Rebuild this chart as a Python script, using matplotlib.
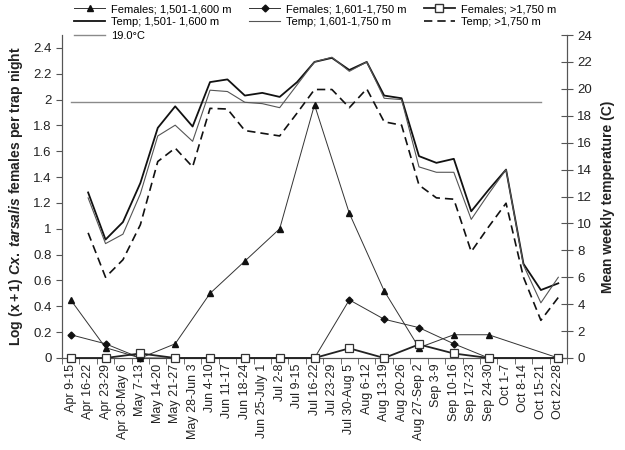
import matplotlib
matplotlib.use("Agg")
import matplotlib.pyplot as plt
from matplotlib.lines import Line2D
import numpy as np

plt.rcParams['font.family'] = ['Liberation Sans', 'DejaVu Sans']
plt.rcParams['mathtext.fontset'] = 'custom'
plt.rcParams['mathtext.rm'] = 'Liberation Sans:bold'
plt.rcParams['mathtext.bf'] = 'Liberation Sans:bold'
plt.rcParams['mathtext.it'] = 'Liberation Sans:italic:bold'

categories = ["Apr 9-15", "Apr 16-22", "Apr 23-29", "Apr 30-May 6", "May 7-13",
              "May 14-20", "May 21-27", "May 28-Jun 3", "Jun 4-10", "Jun 11-17",
              "Jun 18-24", "Jun 25-July 1", "Jul 2-8", "Jul 9-15", "Jul 16-22",
              "Jul 23-29", "Jul 30-Aug 5", "Aug 6-12", "Aug 13-19", "Aug 20-26",
              "Aug 27-Sep 2", "Sep 3-9", "Sep 10-16", "Sep 17-23", "Sep 24-30",
              "Oct 1-7", "Oct 8-14", "Oct 15-21", "Oct 22-28"]

# Female sampling weeks (biweekly)
female_weeks = ["Apr 9-15", "Apr 23-29", "May 7-13", "May 21-27", "Jun 4-10",
                "Jun 18-24", "Jul 2-8", "Jul 16-22", "Jul 30-Aug 5", "Aug 13-19",
                "Aug 27-Sep 2", "Sep 10-16", "Sep 24-30", "Oct 22-28"]
fem_1501_1600 = [0.45, 0.08, 0.0, 0.11, 0.50, 0.75, 1.00, 1.96, 1.12, 0.52, 0.08, 0.18, 0.18, 0.0]
fem_1601_1750 = [0.18, 0.11, 0.0, 0.0, 0.0, 0.0, 0.0, 0.0, 0.45, 0.30, 0.235, 0.11, 0.0, 0.0]
fem_gt1750 = [0.0, 0.0, 0.035, 0.0, 0.0, 0.0, 0.0, 0.0, 0.075, 0.0, 0.105, 0.035, 0.0, 0.0]

# Weekly temperatures (Apr 16-22 .. Oct 22-28)
temp_weeks = categories[1:]
temp_1501_1600 = [12.3, 8.8, 10.1, 13.0, 17.1, 18.7, 17.2, 20.5, 20.7, 19.5, 19.7, 19.4,
                  20.5, 22.0, 22.3, 21.4, 22.0, 19.5, 19.3, 15.0, 14.5, 14.8, 10.9, 12.5,
                  14.0, 7.0, 5.05, 5.55]
temp_1601_1750 = [11.9, 8.5, 9.2, 12.2, 16.5, 17.3, 16.1, 19.9, 19.8, 19.0, 18.9, 18.6,
                  20.3, 22.0, 22.35, 21.3, 22.0, 19.3, 19.2, 14.2, 13.8, 13.8, 10.3, 12.2,
                  14.0, 6.9, 4.1, 6.0]
temp_gt1750 = [9.3, 6.0, 7.3, 9.9, 14.6, 15.6, 14.2, 18.55, 18.5, 16.9, 16.7, 16.5,
               18.2, 19.95, 19.95, 18.6, 20.0, 17.55, 17.3, 12.85, 11.9, 11.8, 7.9, 9.75,
               11.5, 6.0, 2.8, 4.5]

threshold_weeks = categories[:28]
threshold_temp = [19.0] * len(threshold_weeks)

idx = {c: i for i, c in enumerate(categories)}
xf = [idx[w] for w in female_weeks]
xt = [idx[w] for w in temp_weeks]
xh = [idx[w] for w in threshold_weeks]

fig = plt.figure(figsize=(6.25, 4.5), dpi=100)
ax = fig.add_axes([62/625, 1-358/450, (567-62)/625, (358-35)/450])
ax2 = ax.twinx()

tc = '#222222'
# temperatures on right axis
ax2.plot(xh, threshold_temp, color='#8a8a8a', lw=1.0, zorder=1)
ax2.plot(xt, temp_1501_1600, color='#111111', lw=1.3, zorder=2)
ax2.plot(xt, temp_1601_1750, color='#555555', lw=0.8, zorder=2)
ax2.plot(xt, temp_gt1750, color='#111111', lw=1.2, ls=(0, (5, 3)), zorder=2)

# females on left axis (draw on ax2 z-order via transform? keep on ax, bring ax to front)
ax.plot(xf, fem_1501_1600, color='#333333', lw=0.7, marker='^', ms=5,
        mfc='#111111', mec='#111111', clip_on=False, zorder=3)
ax.plot(xf, fem_1601_1750, color='#333333', lw=0.7, marker='D', ms=3.5,
        mfc='#111111', mec='#111111', clip_on=False, zorder=3)
ax.plot(xf, fem_gt1750, color='#222222', lw=1.3, marker='s', ms=6,
        mfc='white', mec='#333333', mew=0.9, clip_on=False, zorder=4)

ax.set_zorder(ax2.get_zorder() + 1)
ax.patch.set_visible(False)

ax.set_xlim(-0.5, 28.5)
ax.set_ylim(0, 2.5)
ax2.set_ylim(0, 24)
ax.set_yticks(np.arange(0, 2.41, 0.2))
ax.set_yticklabels(['0', '0.2', '0.4', '0.6', '0.8', '1', '1.2', '1.4', '1.6', '1.8', '2', '2.2', '2.4'])
ax2.set_yticks(np.arange(0, 25, 2))

ax.set_xticks(np.arange(len(categories)))
ax.set_xticklabels(categories, rotation=90, fontsize=9, color=tc)
ax.set_xticks(np.arange(-0.5, 28.6, 1), minor=True)
ax.tick_params(axis='x', which='major', length=0, pad=4)
ax.tick_params(axis='x', which='minor', length=4, direction='out', color='#555555')
ax.tick_params(axis='y', labelsize=9.5, labelcolor=tc, length=4, direction='out', color='#555555')
ax2.tick_params(axis='y', labelsize=9.5, labelcolor=tc, length=8, direction='inout', color='#555555')

for a in (ax, ax2):
    a.spines['top'].set_visible(False)
    for s in ('left', 'right', 'bottom'):
        a.spines[s].set_color('#555555')
        a.spines[s].set_linewidth(0.8)

ax.set_ylabel(r'$\mathbf{Log\ (x+1)}\ \mathit{Cx.\ tarsalis}\ \mathbf{females\ per\ trap\ night}$',
              fontsize=10, color=tc, labelpad=6)
ax2.set_ylabel('Mean weekly temperature (C)', fontsize=10, fontweight='bold', color=tc, labelpad=6)

h_f1 = Line2D([], [], color='#333333', lw=0.7, marker='^', ms=5, mfc='#111111', mec='#111111')
h_f2 = Line2D([], [], color='#333333', lw=0.7, marker='D', ms=3.5, mfc='#111111', mec='#111111')
h_f3 = Line2D([], [], color='#222222', lw=1.3, marker='s', ms=6, mfc='white', mec='#333333')
h_t1 = Line2D([], [], color='#111111', lw=1.3)
h_t2 = Line2D([], [], color='#555555', lw=0.8)
h_t3 = Line2D([], [], color='#111111', lw=1.2, ls=(0, (5, 3)))
h_th = Line2D([], [], color='#8a8a8a', lw=1.0)
handles = [h_f1, h_t1, h_th, h_f2, h_t2, h_f3, h_t3]
labels = ['Females; 1,501-1,600 m', 'Temp; 1,501- 1,600 m', '19.0°C',
          'Females; 1,601-1,750 m', 'Temp; 1,601-1,750 m',
          'Females; >1,750 m', 'Temp; >1,750 m']
fig.legend(handles, labels, loc='upper left', bbox_to_anchor=(74/625, 1-4/450),
           ncol=3, frameon=False, fontsize=8, handlelength=2.8, handletextpad=0.5,
           columnspacing=1.6, labelspacing=0.3, borderpad=0, borderaxespad=0)

fig.savefig('out.png', dpi=100)
